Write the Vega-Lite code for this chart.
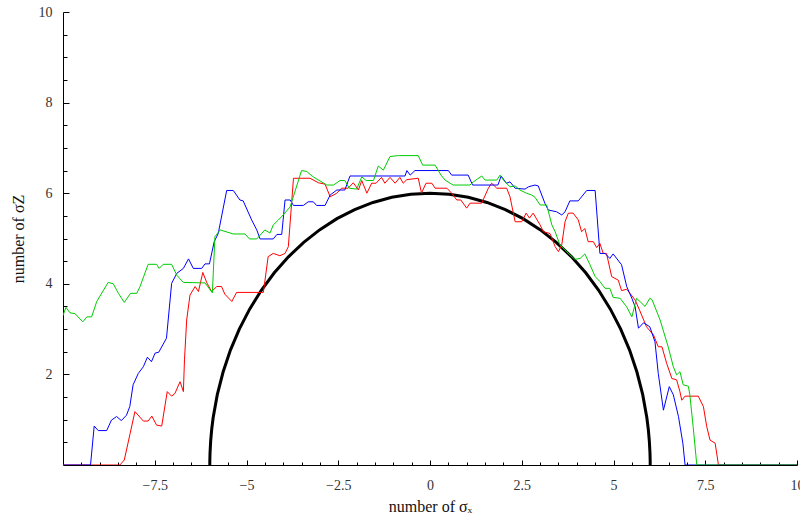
{
  "$schema": "https://vega.github.io/schema/vega-lite/v6.json",
  "autosize": "none",
  "padding": {"left": 63, "top": 12, "right": 3, "bottom": 53},
  "width": 734,
  "height": 453,
  "background": "white",
  "config": {
    "view": {"stroke": null},
    "axis": {
      "labelFont": "Liberation Serif",
      "titleFont": "Liberation Serif",
      "labelFontSize": 14,
      "titleFontSize": 16,
      "titleFontWeight": "normal",
      "labelColor": "#333333",
      "titleColor": "#111111",
      "domainColor": "black",
      "tickColor": "black",
      "grid": false
    }
  },
  "datasets": {
    "circle": [
      {"x": -6.0, "y": 0.0}, {"x": -5.9991, "y": 0.1047}, {"x": -5.994, "y": 0.262}, {"x": -5.977, "y": 0.523},
      {"x": -5.949, "y": 0.783}, {"x": -5.909, "y": 1.042}, {"x": -5.796, "y": 1.553}, {"x": -5.638, "y": 2.052},
      {"x": -5.438, "y": 2.536}, {"x": -5.196, "y": 3.0}, {"x": -4.915, "y": 3.441}, {"x": -4.596, "y": 3.857},
      {"x": -4.243, "y": 4.243}, {"x": -3.857, "y": 4.596}, {"x": -3.441, "y": 4.915}, {"x": -3.0, "y": 5.196},
      {"x": -2.536, "y": 5.438}, {"x": -2.052, "y": 5.638}, {"x": -1.553, "y": 5.796}, {"x": -1.042, "y": 5.909},
      {"x": -0.523, "y": 5.977}, {"x": 0.0, "y": 6.0}, {"x": 0.523, "y": 5.977}, {"x": 1.042, "y": 5.909},
      {"x": 1.553, "y": 5.796}, {"x": 2.052, "y": 5.638}, {"x": 2.536, "y": 5.438}, {"x": 3.0, "y": 5.196},
      {"x": 3.441, "y": 4.915}, {"x": 3.857, "y": 4.596}, {"x": 4.243, "y": 4.243}, {"x": 4.596, "y": 3.857},
      {"x": 4.915, "y": 3.441}, {"x": 5.196, "y": 3.0}, {"x": 5.438, "y": 2.536}, {"x": 5.638, "y": 2.052},
      {"x": 5.796, "y": 1.553}, {"x": 5.909, "y": 1.042}, {"x": 5.949, "y": 0.783}, {"x": 5.977, "y": 0.523},
      {"x": 5.994, "y": 0.262}, {"x": 5.9991, "y": 0.1047}, {"x": 6.0, "y": 0.0}
    ],
    "red": [
      {"x": -10, "y": 0}, {"x": -8.45, "y": 0}, {"x": -8.33, "y": 0.11}, {"x": -8.17, "y": 0.7}, {"x": -8.04, "y": 1.18},
      {"x": -7.81, "y": 0.97}, {"x": -7.68, "y": 0.97}, {"x": -7.58, "y": 1.08}, {"x": -7.45, "y": 0.88}, {"x": -7.31, "y": 0.86},
      {"x": -7.16, "y": 1.62}, {"x": -7.04, "y": 1.52}, {"x": -6.95, "y": 1.58}, {"x": -6.81, "y": 1.84}, {"x": -6.72, "y": 1.62},
      {"x": -6.69, "y": 2.32}, {"x": -6.63, "y": 3.2}, {"x": -6.54, "y": 3.75}, {"x": -6.4, "y": 3.94}, {"x": -6.31, "y": 3.83},
      {"x": -6.19, "y": 4.25}, {"x": -6.08, "y": 4.02}, {"x": -5.95, "y": 3.83}, {"x": -5.81, "y": 3.94}, {"x": -5.68, "y": 3.94},
      {"x": -5.59, "y": 3.77}, {"x": -5.4, "y": 3.61}, {"x": -5.27, "y": 3.81}, {"x": -4.54, "y": 3.81}, {"x": -4.41, "y": 4.6},
      {"x": -4.27, "y": 4.67}, {"x": -4.09, "y": 4.62}, {"x": -3.95, "y": 4.67}, {"x": -3.86, "y": 4.82}, {"x": -3.72, "y": 6.33},
      {"x": -3.27, "y": 6.33}, {"x": -3.04, "y": 6.23}, {"x": -2.86, "y": 6.2}, {"x": -2.72, "y": 5.92}, {"x": -2.54, "y": 6.0},
      {"x": -2.41, "y": 6.11}, {"x": -2.23, "y": 6.11}, {"x": -2.09, "y": 6.23}, {"x": -1.95, "y": 6.07}, {"x": -1.86, "y": 6.28},
      {"x": -1.72, "y": 6.0}, {"x": -1.59, "y": 6.22}, {"x": -1.47, "y": 6.22}, {"x": -1.32, "y": 6.35}, {"x": -1.23, "y": 6.22},
      {"x": -1.09, "y": 6.35}, {"x": -0.95, "y": 6.22}, {"x": -0.82, "y": 6.35}, {"x": -0.73, "y": 6.22}, {"x": -0.63, "y": 6.3},
      {"x": -0.32, "y": 6.33}, {"x": -0.23, "y": 6.0}, {"x": -0.11, "y": 6.22}, {"x": 0.05, "y": 6.22}, {"x": 0.14, "y": 6.11},
      {"x": 0.46, "y": 6.11}, {"x": 0.59, "y": 6.0}, {"x": 0.73, "y": 5.85}, {"x": 0.84, "y": 5.85}, {"x": 1.0, "y": 5.67},
      {"x": 1.09, "y": 5.78}, {"x": 1.41, "y": 5.78}, {"x": 1.59, "y": 6.11}, {"x": 1.68, "y": 6.22}, {"x": 1.82, "y": 6.11},
      {"x": 2.09, "y": 6.11}, {"x": 2.18, "y": 5.92}, {"x": 2.32, "y": 5.37}, {"x": 2.5, "y": 5.37}, {"x": 2.62, "y": 5.56},
      {"x": 2.71, "y": 5.45}, {"x": 2.81, "y": 5.56}, {"x": 3.0, "y": 5.3}, {"x": 3.09, "y": 5.15}, {"x": 3.27, "y": 5.11},
      {"x": 3.41, "y": 4.82}, {"x": 3.5, "y": 4.71}, {"x": 3.59, "y": 4.86}, {"x": 3.68, "y": 5.37}, {"x": 3.77, "y": 5.56},
      {"x": 3.9, "y": 5.56}, {"x": 4.04, "y": 5.41}, {"x": 4.13, "y": 5.15}, {"x": 4.22, "y": 5.22}, {"x": 4.31, "y": 4.93},
      {"x": 4.45, "y": 4.93}, {"x": 4.54, "y": 4.8}, {"x": 4.63, "y": 4.89}, {"x": 4.72, "y": 4.67}, {"x": 4.81, "y": 4.67},
      {"x": 4.95, "y": 4.16}, {"x": 5.13, "y": 4.08}, {"x": 5.22, "y": 3.85}, {"x": 5.36, "y": 3.88}, {"x": 5.45, "y": 3.79},
      {"x": 5.59, "y": 3.64}, {"x": 5.72, "y": 3.4}, {"x": 5.9, "y": 3.05}, {"x": 6.09, "y": 2.87}, {"x": 6.22, "y": 2.61},
      {"x": 6.32, "y": 2.61}, {"x": 6.45, "y": 2.24}, {"x": 6.59, "y": 1.91}, {"x": 6.72, "y": 1.88}, {"x": 6.81, "y": 1.62},
      {"x": 6.86, "y": 1.43}, {"x": 6.95, "y": 1.52}, {"x": 7.31, "y": 1.52}, {"x": 7.45, "y": 1.29}, {"x": 7.54, "y": 0.85},
      {"x": 7.63, "y": 0.55}, {"x": 7.77, "y": 0.48}, {"x": 7.86, "y": 0}, {"x": 10, "y": 0}
    ],
    "blue": [
      {"x": -10, "y": 0}, {"x": -9.25, "y": 0}, {"x": -9.15, "y": 0.86}, {"x": -9.04, "y": 0.76}, {"x": -8.81, "y": 0.76},
      {"x": -8.68, "y": 0.99}, {"x": -8.54, "y": 1.07}, {"x": -8.41, "y": 0.98}, {"x": -8.27, "y": 1.1}, {"x": -8.18, "y": 1.29},
      {"x": -8.09, "y": 1.77}, {"x": -7.95, "y": 2.02}, {"x": -7.81, "y": 2.17}, {"x": -7.7, "y": 2.38}, {"x": -7.59, "y": 2.28},
      {"x": -7.49, "y": 2.47}, {"x": -7.39, "y": 2.49}, {"x": -7.18, "y": 2.8}, {"x": -7.04, "y": 4.01}, {"x": -6.9, "y": 4.23},
      {"x": -6.72, "y": 4.34}, {"x": -6.58, "y": 4.55}, {"x": -6.45, "y": 4.34}, {"x": -6.22, "y": 4.34}, {"x": -6.13, "y": 4.44},
      {"x": -6.01, "y": 4.44}, {"x": -5.88, "y": 4.93}, {"x": -5.77, "y": 5.11}, {"x": -5.54, "y": 6.06}, {"x": -5.36, "y": 6.06},
      {"x": -5.18, "y": 5.85}, {"x": -5.09, "y": 5.83}, {"x": -4.86, "y": 5.41}, {"x": -4.72, "y": 5.19}, {"x": -4.63, "y": 4.99},
      {"x": -4.27, "y": 4.99}, {"x": -4.17, "y": 5.09}, {"x": -4.04, "y": 5.09}, {"x": -3.95, "y": 5.85}, {"x": -3.81, "y": 5.85},
      {"x": -3.72, "y": 5.73}, {"x": -3.45, "y": 5.73}, {"x": -3.32, "y": 5.81}, {"x": -3.18, "y": 5.81}, {"x": -3.09, "y": 5.73},
      {"x": -2.86, "y": 5.73}, {"x": -2.72, "y": 5.96}, {"x": -2.54, "y": 6.07}, {"x": -2.32, "y": 6.07}, {"x": -2.18, "y": 6.38},
      {"x": -0.68, "y": 6.38}, {"x": -0.63, "y": 6.5}, {"x": -0.54, "y": 6.4}, {"x": -0.41, "y": 6.5}, {"x": 0.5, "y": 6.5},
      {"x": 0.59, "y": 6.4}, {"x": 1.04, "y": 6.4}, {"x": 1.16, "y": 6.18}, {"x": 1.85, "y": 6.18}, {"x": 1.94, "y": 6.38},
      {"x": 2.08, "y": 6.22}, {"x": 2.18, "y": 6.25}, {"x": 2.32, "y": 6.11}, {"x": 2.59, "y": 6.09}, {"x": 2.68, "y": 6.14},
      {"x": 2.86, "y": 6.18}, {"x": 2.95, "y": 6.16}, {"x": 3.13, "y": 5.78}, {"x": 3.22, "y": 5.63}, {"x": 3.45, "y": 5.59},
      {"x": 3.59, "y": 5.52}, {"x": 3.68, "y": 5.59}, {"x": 3.81, "y": 5.83}, {"x": 4.04, "y": 5.83}, {"x": 4.27, "y": 6.06},
      {"x": 4.5, "y": 6.06}, {"x": 4.63, "y": 4.67}, {"x": 4.77, "y": 4.67}, {"x": 4.9, "y": 4.56}, {"x": 4.99, "y": 4.66},
      {"x": 5.22, "y": 4.42}, {"x": 5.36, "y": 3.94}, {"x": 5.5, "y": 3.68}, {"x": 5.59, "y": 3.49}, {"x": 5.68, "y": 3.02},
      {"x": 5.82, "y": 3.14}, {"x": 5.99, "y": 3.05}, {"x": 6.13, "y": 2.72}, {"x": 6.22, "y": 2.02}, {"x": 6.36, "y": 1.21},
      {"x": 6.52, "y": 1.73}, {"x": 6.63, "y": 1.55}, {"x": 6.77, "y": 1.07}, {"x": 6.89, "y": 0.48}, {"x": 6.95, "y": 0},
      {"x": 10, "y": 0}
    ],
    "green": [
      {"x": -10, "y": 3.3}, {"x": -9.92, "y": 3.48}, {"x": -9.81, "y": 3.36}, {"x": -9.67, "y": 3.34}, {"x": -9.46, "y": 3.16},
      {"x": -9.35, "y": 3.27}, {"x": -9.22, "y": 3.27}, {"x": -9.08, "y": 3.61}, {"x": -8.77, "y": 4.03}, {"x": -8.63, "y": 4.0},
      {"x": -8.49, "y": 3.79}, {"x": -8.33, "y": 3.59}, {"x": -8.16, "y": 3.79}, {"x": -7.99, "y": 3.79}, {"x": -7.9, "y": 3.94},
      {"x": -7.68, "y": 4.43}, {"x": -7.45, "y": 4.43}, {"x": -7.38, "y": 4.34}, {"x": -7.27, "y": 4.43}, {"x": -7.04, "y": 4.43},
      {"x": -6.9, "y": 4.19}, {"x": -6.72, "y": 4.03}, {"x": -6.13, "y": 4.02}, {"x": -5.93, "y": 3.8}, {"x": -5.86, "y": 5.04},
      {"x": -5.72, "y": 5.19}, {"x": -5.36, "y": 5.1}, {"x": -5.04, "y": 5.1}, {"x": -4.92, "y": 4.99}, {"x": -4.72, "y": 4.99},
      {"x": -4.5, "y": 5.19}, {"x": -4.36, "y": 5.12}, {"x": -4.27, "y": 5.3}, {"x": -4.13, "y": 5.41}, {"x": -4.0, "y": 5.52},
      {"x": -3.81, "y": 5.7}, {"x": -3.5, "y": 6.5}, {"x": -3.36, "y": 6.48}, {"x": -3.18, "y": 6.36}, {"x": -2.81, "y": 6.18},
      {"x": -2.63, "y": 6.18}, {"x": -2.45, "y": 6.28}, {"x": -2.32, "y": 6.28}, {"x": -2.2, "y": 6.11}, {"x": -2.0, "y": 6.09},
      {"x": -1.86, "y": 6.36}, {"x": -1.74, "y": 6.28}, {"x": -1.54, "y": 6.28}, {"x": -1.41, "y": 6.6}, {"x": -1.27, "y": 6.51},
      {"x": -1.09, "y": 6.81}, {"x": -0.86, "y": 6.83}, {"x": -0.32, "y": 6.83}, {"x": -0.2, "y": 6.62}, {"x": 0.14, "y": 6.62},
      {"x": 0.3, "y": 6.4}, {"x": 0.41, "y": 6.29}, {"x": 0.63, "y": 6.18}, {"x": 1.09, "y": 6.18}, {"x": 1.18, "y": 6.25},
      {"x": 1.41, "y": 6.38}, {"x": 1.5, "y": 6.29}, {"x": 1.82, "y": 6.29}, {"x": 1.91, "y": 6.4}, {"x": 2.0, "y": 6.29},
      {"x": 2.18, "y": 6.14}, {"x": 2.32, "y": 6.16}, {"x": 2.45, "y": 6.07}, {"x": 2.63, "y": 6.0}, {"x": 2.77, "y": 5.96},
      {"x": 2.86, "y": 5.91}, {"x": 3.0, "y": 5.74}, {"x": 3.18, "y": 5.74}, {"x": 3.32, "y": 5.3}, {"x": 3.41, "y": 5.15},
      {"x": 3.54, "y": 4.86}, {"x": 3.81, "y": 4.64}, {"x": 3.95, "y": 4.54}, {"x": 4.09, "y": 4.56}, {"x": 4.22, "y": 4.66},
      {"x": 4.36, "y": 4.42}, {"x": 4.5, "y": 4.16}, {"x": 4.63, "y": 4.05}, {"x": 4.77, "y": 3.9}, {"x": 4.9, "y": 3.9},
      {"x": 4.99, "y": 3.7}, {"x": 5.18, "y": 3.68}, {"x": 5.36, "y": 3.49}, {"x": 5.5, "y": 3.27}, {"x": 5.63, "y": 3.68},
      {"x": 5.86, "y": 3.5}, {"x": 5.99, "y": 3.68}, {"x": 6.05, "y": 3.65}, {"x": 6.27, "y": 3.2}, {"x": 6.49, "y": 2.61},
      {"x": 6.63, "y": 2.17}, {"x": 6.72, "y": 1.99}, {"x": 6.81, "y": 2.06}, {"x": 6.9, "y": 1.77}, {"x": 7.04, "y": 1.74},
      {"x": 7.08, "y": 1.55}, {"x": 7.17, "y": 0.85}, {"x": 7.27, "y": 0}, {"x": 10, "y": 0}
    ]
  },
  "resolve": {"axis": {"x": "independent", "y": "independent"}},
  "layer": [
    {
      "data": {"name": "circle"},
      "mark": {"type": "line", "color": "black", "strokeWidth": 3, "clip": true},
      "encoding": {
        "x": {"field": "x", "type": "quantitative", "scale": {"domain": [-10, 10], "nice": false, "zero": false},
          "axis": {"orient": "bottom", "title": "number  of  σₓ", "values": [-7.5, -5, -2.5, 0, 2.5, 5, 7.5, 10], "labelExpr": "replace(format(datum.value, '.1f'), '.0', '')", "tickSize": -5, "labelPadding": 18, "titlePadding": 6, "labelFlush": false, "labelOverlap": false}},
        "y": {"field": "y", "type": "quantitative", "scale": {"domain": [0, 10], "nice": false},
          "axis": {"orient": "left", "title": "number of σZ", "values": [2, 4, 6, 8, 10], "format": ".0f", "tickSize": -6, "labelPadding": 17, "titlePadding": 12, "labelFlush": false, "labelOverlap": false}},
        "order": {"field": "x", "type": "quantitative"}
      }
    },
    {
      "data": {"name": "red"},
      "mark": {"type": "line", "color": "#ff0000", "strokeWidth": 1, "clip": true},
      "encoding": {
        "x": {"field": "x", "type": "quantitative",
          "axis": {"orient": "bottom", "title": null, "labels": false, "domain": false, "tickSize": -3, "values": [-9.5, -9, -8.5, -8, -7, -6.5, -6, -5.5, -4.5, -4, -3.5, -3, -2, -1.5, -1, -0.5, 0.5, 1, 1.5, 2, 3, 3.5, 4, 4.5, 5.5, 6, 6.5, 7, 8, 8.5, 9, 9.5]}},
        "y": {"field": "y", "type": "quantitative",
          "axis": {"orient": "left", "title": null, "labels": false, "domain": false, "tickSize": -4, "values": [0.5, 1, 1.5, 2.5, 3, 3.5, 4.5, 5, 5.5, 6.5, 7, 7.5, 8.5, 9, 9.5]}}
      }
    },
    {
      "data": {"name": "blue"},
      "mark": {"type": "line", "color": "#0000ff", "strokeWidth": 1, "clip": true},
      "encoding": {
        "x": {"field": "x", "type": "quantitative", "axis": null},
        "y": {"field": "y", "type": "quantitative", "axis": null}
      }
    },
    {
      "data": {"name": "green"},
      "mark": {"type": "line", "color": "#00cc00", "strokeWidth": 1, "clip": true},
      "encoding": {
        "x": {"field": "x", "type": "quantitative", "axis": null},
        "y": {"field": "y", "type": "quantitative", "axis": null}
      }
    }
  ]
}
